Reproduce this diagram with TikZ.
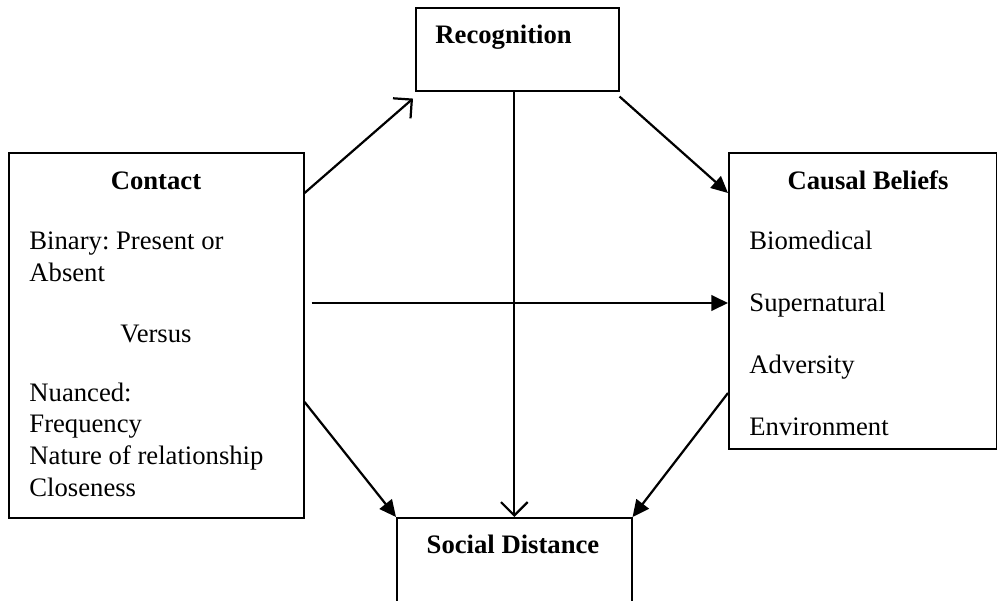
\documentclass[tikz,border=0pt]{standalone}
\usepackage{fontspec}
\setmainfont{Liberation Serif}
\usetikzlibrary{arrows.meta}
\frenchspacing

\begin{document}
\begin{tikzpicture}[x=0.45pt,y=-0.45pt,
font=\fontsize{12}{14}\selectfont,
box/.style={%
anchor=north west,
draw,
line width=0.7pt,
inner sep=0pt
},
head/.style={%
anchor=base,
font=\fontsize{12}{14}\selectfont\bfseries,
inner sep=0pt
},
item/.style={%
anchor=base west,
inner sep=0pt
},
openarr/.style={%
line width=1pt,
-{Straight Barb[length=6pt,width=12pt,line width=1pt]}
},
fillarr/.style={%
line width=1pt,
-{Triangle[length=7.5pt,width=7pt]}
},
]
\useasboundingbox (0,0) rectangle (997,600);
\clip (0,0) rectangle (997,600);
%% boxes
\node[box,minimum width=91.35pt,minimum height=37.35pt]at(415,7)(recog){};
\node[box,minimum width=132.75pt,minimum height=164.25pt]at(8,152)(contact){};
\node[box,minimum width=120.6pt,minimum height=133.2pt]at(728,152)(causal){};
\node[box,minimum width=105.75pt,minimum height=54pt]at(396,517)(social){};
%% recognition
\node[head,anchor=base west]at(435,43)(recogt){Recognition};
%% contact
\node[head]at(156,189)(contactt){Contact};
\node[item]at(29,249)(bin1){Binary: Present or};
\node[item]at(29,281)(bin2){Absent};
\node[anchor=base,inner sep=0pt]at(156,342)(vs){Versus};
\node[item]at(29,401)(nu1){Nuanced:};
\node[item]at(29,432)(nu2){Frequency};
\node[item]at(29,464)(nu3){Nature of relationship};
\node[item]at(29,496)(nu4){Closeness};
%% causal beliefs
\node[head]at(868,189)(causalt){Causal Beliefs};
\node[item]at(749,249)(bio){Biomedical};
\node[item]at(749,311)(sup){Supernatural};
\node[item]at(749,373)(adv){Adversity};
\node[item]at(749,435)(env){Environment};
%% social distance
\node[head]at(513,553)(socialt){Social Distance};
%% arrows
\draw[openarr]([shift={(0,41)}]contact.north east)--([shift={(-2,7)}]recog.south west);
\draw[fillarr]([shift={(0,5)}]recog.south east)--([shift={(0,41)}]causal.north west);
\draw[fillarr]([shift={(7,151)}]contact.north east)--([shift={(0,151)}]causal.north west);
\draw[openarr](social.north |- recog.south)--(social.north);
\draw[fillarr]([shift={(0,250)}]contact.north east)--(social.north west);
\draw[fillarr]([shift={(0,241)}]causal.north west)--(social.north east);
\end{tikzpicture}
\end{document}
